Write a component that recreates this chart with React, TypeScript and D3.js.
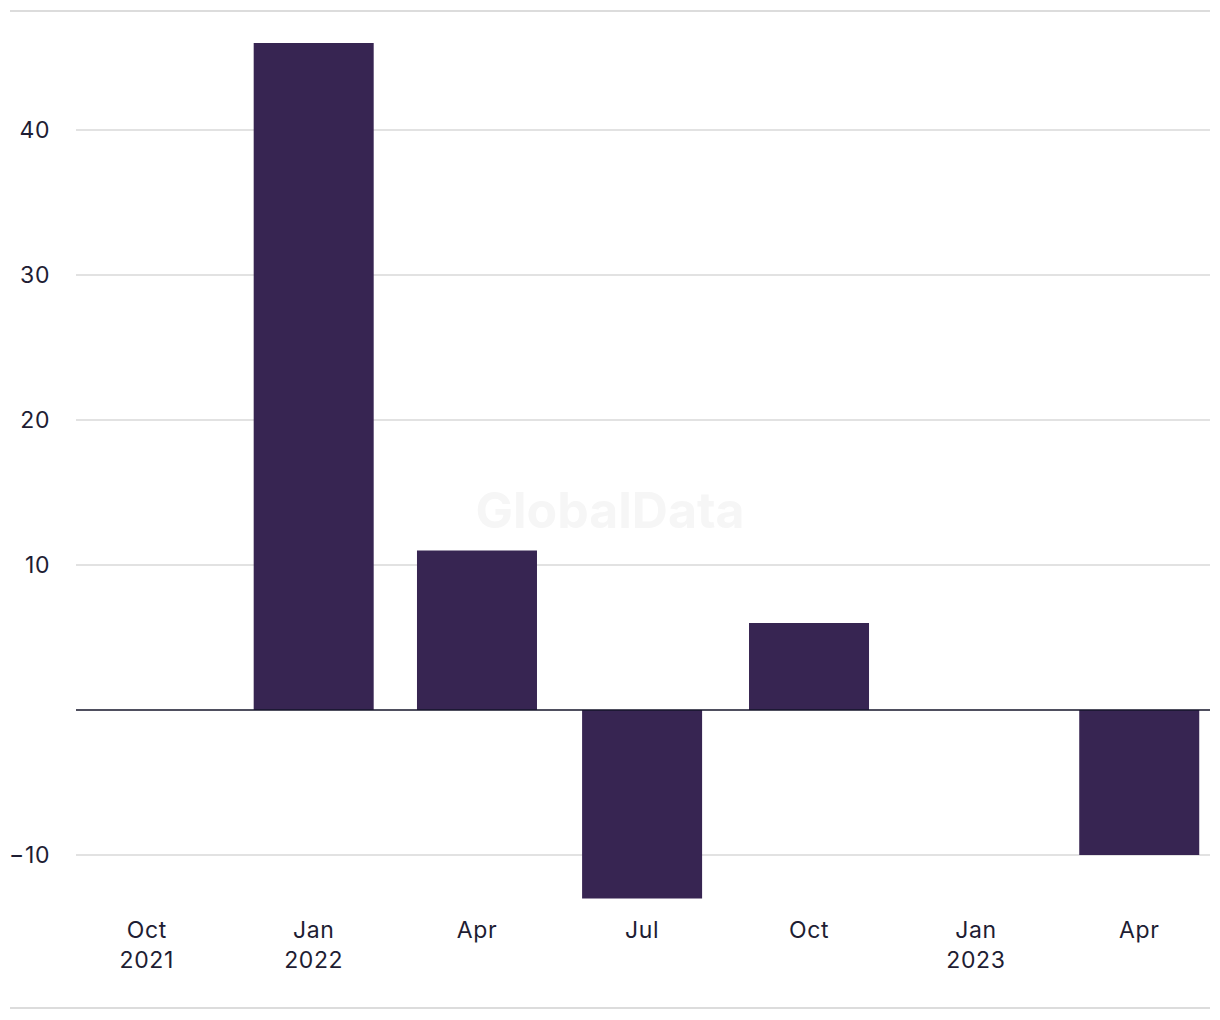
import React, { useEffect, useRef } from "react";
import * as d3 from "d3";

const categories = ["2021-10-01", "2022-01-01", "2022-04-01", "2022-07-01", "2022-10-01", "2023-01-01", "2023-04-01"];
const values = [0, 46, 11, -13, 6, 0, -10];
const tickLabels = [["Oct", "2021"], ["Jan", "2022"], ["Apr"], ["Jul"], ["Oct"], ["Jan", "2023"], ["Apr"]];
const yTicks = [-10, 10, 20, 30, 40];

const W = 1220;
const H = 1020;
const FONT = "Inter, 'Noto Sans', sans-serif";
const TEXT = "#1e1d33";
const BAR = "#372552";

export default function App() {
  const ref = useRef<SVGSVGElement>(null);
  useEffect(() => {
    const svg = d3.select(ref.current);
    svg.selectAll("*").remove();
    const dates = categories.map((c) => new Date(c + "T00:00:00Z"));
    const pad = 39 * 86400000;
    const x = d3
      .scaleUtc()
      .domain([new Date(+dates[0] - pad), new Date(+dates[dates.length - 1] + pad)])
      .range([76, 1210]);
    const y = d3.scaleLinear().domain([-10, 40]).range([855, 130]);
    const barW = 120;

    // frame lines
    svg.append("line").attr("x1", 10).attr("x2", 1210).attr("y1", 11).attr("y2", 11)
      .attr("stroke", "#dcdcdc").attr("stroke-width", 2);
    svg.append("line").attr("x1", 10).attr("x2", 1210).attr("y1", 1008).attr("y2", 1008)
      .attr("stroke", "#dcdcdc").attr("stroke-width", 2);

    // grid
    svg.append("g").selectAll("line").data(yTicks).join("line")
      .attr("x1", 76).attr("x2", 1210)
      .attr("y1", (d) => y(d)).attr("y2", (d) => y(d))
      .attr("stroke", "#d9d9d9").attr("stroke-width", 1.3);

    // y labels
    svg.append("g").selectAll("text").data(yTicks).join("text")
      .attr("x", 50).attr("y", (d) => y(d))
      .attr("dy", "0.36em")
      .attr("text-anchor", "end")
      .attr("font-family", FONT).attr("font-size", 23).attr("letter-spacing", 0.6).attr("fill", TEXT)
      .text((d) => (d < 0 ? "\u2212" + Math.abs(d) : String(d)));

    // watermark
    svg.append("text").attr("x", 610).attr("y", 528)
      .attr("text-anchor", "middle")
      .attr("font-family", FONT).attr("font-weight", 700).attr("font-size", 50)
      .attr("fill", "#f6f6f6").text("GlobalData");

    // bars
    svg.append("g").selectAll("rect").data(values.map((v, i) => ({ v, d: dates[i] })).filter((o) => o.v !== 0)).join("rect")
      .attr("x", (o) => x(o.d) - barW / 2)
      .attr("width", barW)
      .attr("y", (o) => y(Math.max(0, o.v)))
      .attr("height", (o) => Math.abs(y(o.v) - y(0)))
      .attr("fill", BAR);

    // zero line
    svg.append("line").attr("x1", 76).attr("x2", 1210).attr("y1", y(0)).attr("y2", y(0))
      .attr("stroke", "#15142a").attr("stroke-width", 1.6);

    // x labels
    const xl = svg.append("g").selectAll("text").data(tickLabels.map((t, i) => ({ t, d: dates[i] }))).join("text")
      .attr("x", (o) => x(o.d)).attr("y", 938)
      .attr("text-anchor", "middle")
      .attr("font-family", FONT).attr("font-size", 23).attr("letter-spacing", 0.6).attr("fill", TEXT);
    xl.each(function (o) {
      const el = d3.select(this);
      o.t.forEach((line, k) => {
        el.append("tspan").attr("x", x(o.d)).attr("dy", k === 0 ? 0 : 30).text(line);
      });
    });
  }, []);
  return (
    <svg ref={ref} width={W} height={H} style={{ position: "absolute", left: 0, top: 0, display: "block", background: "#fff" }} />
  );
}
